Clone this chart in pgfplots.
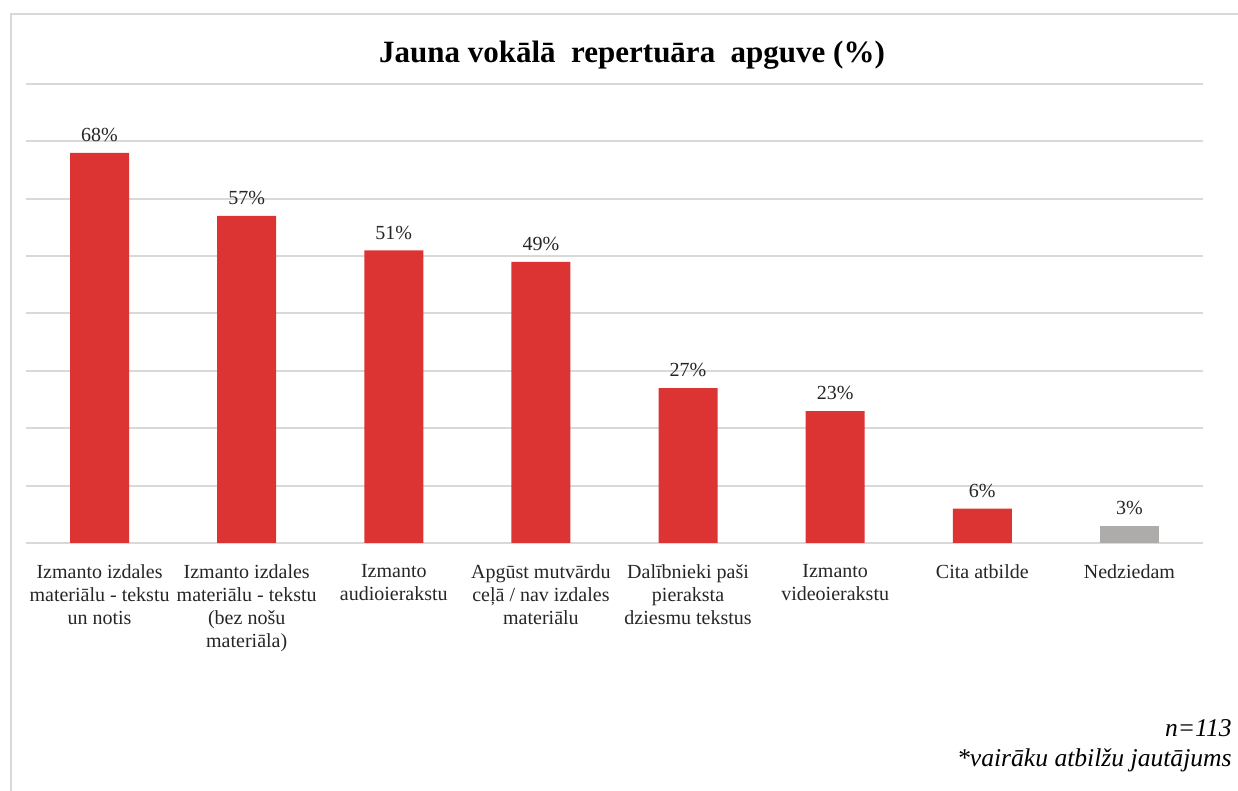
\documentclass[border=0pt]{standalone}
\usepackage{pgfplots}
\pgfplotsset{compat=1.18}
\usepackage{fontspec}
\setmainfont{Liberation Serif}
\definecolor{barred}{HTML}{DC3333}
\definecolor{bargray}{HTML}{AEABAB}
\definecolor{gridgray}{HTML}{D9D9D9}
\begin{document}
\begin{tikzpicture}[x=1pt,y=1pt]
\useasboundingbox (0,0) rectangle (619,395.5);
\draw[gridgray, line width=1pt] (5.5,0) -- (5.5,388.5) -- (619,388.5);
\node[font=\bfseries\fontsize{15.5}{18}\selectfont] at (316,368) {Jauna vokālā \ repertuāra \ apguve (\%)};
\begin{axis}[
  at={(13pt,124pt)}, anchor=south west,
  scale only axis, width=588.5pt, height=229.5pt,
  ymin=0, ymax=80, xmin=-0.5, xmax=7.5,
  ybar, bar width=29.5pt, bar shift=0pt,
  /pgf/number format/assume math mode=true,
  xtick={0,...,7},
  xticklabels={
    {Izmanto izdales\\materiālu - tekstu\\un notis},
    {Izmanto izdales\\materiālu - tekstu\\(bez nošu\\materiāla)},
    {Izmanto\\audioierakstu},
    {Apgūst mutvārdu\\ceļā / nav izdales\\materiālu},
    {Dalībnieki paši\\pieraksta\\dziesmu tekstus},
    {Izmanto\\videoierakstu},
    {Cita atbilde},
    {Nedziedam}},
  ytick={0,10,...,80}, yticklabels={},
  ymajorgrids, grid style={gridgray, line width=1pt},
  axis line style={draw=none}, tick style={draw=none},
  xticklabel style={align=center, font=\fontsize{10}{11.5}\selectfont, text=black!85, yshift=-3pt},
  nodes near coords={\pgfmathprintnumber{\pgfplotspointmeta}\%},
  every node near coord/.append style={font=\fontsize{10}{12}\selectfont, text=black!85, yshift=2pt},
]
\addplot[fill=barred, draw=none] coordinates {
  (0,68) (1,57) (2,51) (3,49) (4,27) (5,23) (6,6)
};
\addplot[fill=bargray, draw=none] coordinates {
  (7,3)
};
\end{axis}
\node[anchor=base east, inner sep=0pt, font=\itshape\fontsize{12.8}{15}\selectfont] at (616,27) {n=113};
\node[anchor=base east, inner sep=0pt, font=\itshape\fontsize{12.8}{15}\selectfont] at (616,12) {*vairāku atbilžu jautājums};
\end{tikzpicture}
\end{document}
